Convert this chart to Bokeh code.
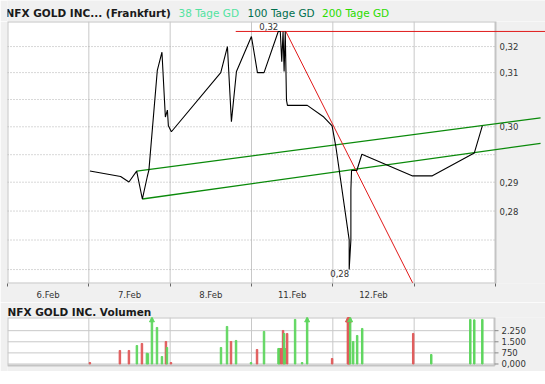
from bokeh.plotting import figure
from bokeh.layouts import column
from bokeh.models import Range1d, FixedTicker, Label
from bokeh.core.properties import value
from bokeh.embed import file_html
from bokeh.resources import INLINE

FONT = "DejaVu Sans"
BG = "#f0f0f0"
FRAME = "#c4c4c4"

# ---------------- data ----------------
HEADER_TITLE = "NFX GOLD INC... (Frankfurt)"
LEGEND_TEXTS = ["38 Tage GD", "100 Tage GD", "200 Tage GD"]
LEGEND_COLORS = ["#52e3a0", "#006f4e", "#2bdc00"]

DAY_LABELS = ["6.Feb", "7.Feb", "8.Feb", "11.Feb", "12.Feb", ""]

PRICE_X = [1.013, 1.391, 1.493, 1.588, 1.658, 1.719, 1.739, 1.842, 1.899, 1.941,
           1.966, 1.978, 2.015, 2.622, 2.704, 2.753, 2.815, 2.999, 3.073, 3.154,
           3.329, 3.354, 3.372, 3.388, 3.401, 3.415, 3.430, 3.442, 3.686, 3.889,
           3.991, 4.037, 4.201, 4.201, 4.222, 4.222, 4.230, 4.295, 4.357, 4.981,
           5.218, 5.739, 5.838]
PRICE_Y = [0.2959, 0.2950, 0.2941, 0.2959, 0.2913, 0.2950, 0.2961, 0.3131, 0.3163, 0.3050,
           0.3062, 0.3035, 0.3025, 0.3127, 0.3173, 0.3042, 0.3129, 0.3191, 0.3127, 0.3127,
           0.3200, 0.3200, 0.3146, 0.3200, 0.3129, 0.3200, 0.3079, 0.3070, 0.3070, 0.3050,
           0.3035, 0.3000, 0.2847, 0.2800, 0.2847, 0.2928, 0.2960, 0.2960, 0.2987, 0.2951,
           0.2951, 0.2989, 0.3035]

Y_MIN, Y_MAX = 0.27782, 0.32179
Y_TICKS = [0.2800, 0.28468, 0.28934, 0.29406, 0.29863, 0.30334, 0.30802, 0.31270, 0.31730]
Y_TICK_LABELS = ["", "", "0,28", "0,29", "", "0,30", "", "0,31", "0,32"]

# trend lines
UPPER_GREEN_X = [1.588, 6.554]
UPPER_GREEN_Y = [0.2959, 0.30487]
LOWER_GREEN_X = [1.658, 6.554]
LOWER_GREEN_Y = [0.2913, 0.30054]
RED_DOWN_X = [3.422, 4.981]
RED_DOWN_Y = [0.3200, 0.27793]
RED_HIGH_X = [2.806, 6.62]

# volume
VOL_X = [1.013, 1.382, 1.493, 1.591, 1.653, 1.714, 1.727, 1.776, 1.838, 1.899,
         1.948, 1.961, 2.010, 2.625, 2.699, 2.748, 2.810, 2.994, 3.068, 3.154,
         3.332, 3.344, 3.364, 3.388, 3.401, 3.413, 3.438, 3.536, 3.622, 3.684,
         3.991, 4.185, 4.193, 4.203, 4.213, 4.250, 4.299, 4.361, 4.988, 5.210,
         5.690, 5.739, 5.838]
VOL_V = [100, 913, 913, 1250, 1386, 730, 700, 4000, 2467, 507,
         1521, 1115, 100, 1115, 2535, 1521, 1589, 100, 980, 2197,
         1048, 1048, 1048, 2264, 2062, 1048, 2062, 3010, 100, 4000,
         372, 4000, 4000, 4000, 4000, 1521, 1926, 2400, 2062, 642,
         3010, 2980, 3010]
VOL_UP = [0, 0, 0, 1, 0, 1, 1, 1, 1, 1,
          0, 1, 0, 1, 1, 0, 1, 1, 0, 1,
          1, 1, 0, 0, 1, 1, 0, 1, 1, 1,
          0, 0, 0, 0, 1, 1, 1, 1, 0, 1,
          1, 1, 1]
VOL_MIN, VOL_MAX = -100, 3140       # visible plot area of the volume chart
VOL_RANGE_MIN = -507                # canvas continues a few px below the plot area
VOL_TICKS = [0, 750, 1500, 2250]
VOL_TICK_LABELS = ["0,000", "750", "1.500", "2.250"]
VOL_TITLE = "NFX GOLD INC. Volumen"

N_DAYS = 6
# the canvas continues 50 px to the right of the plot area (7..495 px of 545)
X_END = N_DAYS * (545 - 7) / (495 - 7)
PX = N_DAYS / (495 - 7)          # one pixel in day units

day_centers = [i + 0.5 for i in range(N_DAYS)]
day_bounds = list(range(N_DAYS + 1))

# ---------------- header ----------------
hdr = figure(width=545, height=21, x_range=Range1d(7, 545), y_range=Range1d(0, 21),
             toolbar_location=None, output_backend="svg", min_border=0,
             min_border_left=7, min_border_right=0,
             x_axis_location=None, y_axis_location=None)
hdr.grid.visible = False
hdr.outline_line_color = None
hdr.background_fill_color = BG
hdr.border_fill_color = BG
hdr.add_layout(Label(x=5, y=8.1, text=HEADER_TITLE, text_color="#1a1a1a",
                     text_font=FONT, text_font_size="10.5px", text_font_style="bold",
                     text_baseline="middle"))
for lx, txt, col in zip([178, 247, 321.5], LEGEND_TEXTS, LEGEND_COLORS):
    hdr.add_layout(Label(x=lx, y=8.1, text=txt, text_color=col, text_font=FONT,
                         text_font_size="10.5px", text_baseline="middle"))

# ---------------- main price chart ----------------
p = figure(width=545, height=281, x_range=Range1d(0, X_END), y_range=Range1d(Y_MIN, Y_MAX),
           y_axis_type="log", y_axis_location=None, toolbar_location=None,
           output_backend="svg", min_border_left=7, min_border_right=0,
           min_border_top=0, min_border_bottom=17)
p.background_fill_color = BG
p.border_fill_color = BG
p.outline_line_color = None
p.grid.visible = False

p.xaxis.ticker = FixedTicker(ticks=day_centers, minor_ticks=day_bounds)
p.xaxis.major_label_overrides = {c: l for c, l in zip(day_centers, DAY_LABELS)}
p.xaxis.axis_line_color = None
p.xaxis.major_tick_line_color = None
p.xaxis.minor_tick_in = 0
p.xaxis.minor_tick_out = 3
p.xaxis.minor_tick_line_color = "#666666"
p.xaxis.major_label_standoff = 0
p.xaxis.major_label_text_font = FONT
p.xaxis.major_label_text_font_size = "8.5px"
p.xaxis.major_label_text_color = "#333333"

# plot area
p.quad(left=[0], right=[N_DAYS], bottom=[Y_MIN], top=[Y_MAX], fill_color="white",
       line_color=FRAME, line_width=2)
# grid
p.segment(x0=day_bounds[1:-1], y0=Y_MIN, x1=day_bounds[1:-1], y1=Y_MAX,
          line_color="#c8c8c8", line_width=1)
p.segment(x0=0, y0=Y_TICKS, x1=N_DAYS - PX, y1=Y_TICKS, line_color="#b0b0b0",
          line_width=1, line_dash="1 2")
# y labels to the right of the plot area
p.text(x=N_DAYS, y=Y_TICKS, text=Y_TICK_LABELS, x_offset=4, text_baseline="middle",
       text_font=value(FONT), text_font_size="8.5px", text_color="#333333")

# trend channel
p.line(UPPER_GREEN_X, UPPER_GREEN_Y, line_color="#0a8a0a", line_width=1.3)
p.line(LOWER_GREEN_X, LOWER_GREEN_Y, line_color="#0a8a0a", line_width=1.3)

hi_idx = PRICE_Y.index(max(PRICE_Y))
lo_idx = PRICE_Y.index(min(PRICE_Y))
hi_val = PRICE_Y[hi_idx]
lo_val = PRICE_Y[lo_idx]

p.line(RED_HIGH_X, [hi_val, hi_val], line_color="#e01a1a", line_width=1)
p.line(RED_DOWN_X, RED_DOWN_Y, line_color="#e01a1a", line_width=1)

p.line(PRICE_X, PRICE_Y, line_color="black", line_width=1.1)

def fmt(v):
    return f"{v:.2f}".replace(".", ",")

p.text(x=[PRICE_X[hi_idx]], y=[hi_val], text=[fmt(hi_val)], text_align="right",
       text_baseline="bottom", y_offset=-1, text_font=value(FONT),
       text_font_size="8.5px", text_color="#333333")
p.text(x=[PRICE_X[lo_idx]], y=[lo_val], text=[fmt(lo_val)], text_align="right",
       text_baseline="top", y_offset=0, text_font=value(FONT),
       text_font_size="8.5px", text_color="#333333")

# ---------------- volume chart ----------------
v = figure(width=545, height=69, x_range=Range1d(0, X_END),
           y_range=Range1d(VOL_RANGE_MIN, VOL_MAX),
           y_axis_location=None, x_axis_location=None, toolbar_location=None,
           output_backend="svg", min_border_left=7, min_border_right=0,
           min_border_top=15, min_border_bottom=0, title=VOL_TITLE)
v.title.text_font = FONT
v.title.text_font_size = "10.5px"
v.title.text_font_style = "bold"
v.title.text_color = "#1a1a1a"
v.title.standoff = 0
v.title.offset = 0
v.background_fill_color = BG
v.border_fill_color = BG
v.outline_line_color = None
v.grid.visible = False

v.quad(left=[0], right=[N_DAYS - PX], bottom=[VOL_MIN], top=[VOL_MAX], fill_color="white",
       line_color=FRAME, line_width=2)
v.segment(x0=day_bounds[1:-1], y0=VOL_MIN, x1=day_bounds[1:-1], y1=VOL_MAX,
          line_color="#c8c8c8", line_width=1)
v.segment(x0=0, y0=VOL_TICKS, x1=N_DAYS - PX, y1=VOL_TICKS, line_color="#c8c8c8",
          line_width=1)
v.segment(x0=N_DAYS - PX, y0=VOL_TICKS, x1=N_DAYS + 3 * PX, y1=VOL_TICKS,
          line_color="#888888", line_width=1)
v.text(x=N_DAYS, y=VOL_TICKS, text=VOL_TICK_LABELS, x_offset=6, text_baseline="middle",
       text_font=value(FONT), text_font_size="8.5px", text_color="#333333")

GREEN = "#5fd65f"
RED = "#e05a5a"
vol_colors = [GREEN if u else RED for u in VOL_UP]
v.vbar(x=VOL_X, top=VOL_V, bottom=0, width=0.018, color=vol_colors)

arrow_y = VOL_MAX - 0.06 * (VOL_MAX - VOL_MIN)
ax = [x for x, val in zip(VOL_X, VOL_V) if val > VOL_MAX]
ac = [c for c, val in zip(vol_colors, VOL_V) if val > VOL_MAX]
v.scatter(x=ax, y=[arrow_y] * len(ax), marker="triangle", size=5, color=ac)

layout = column(hdr, p, v, spacing=0)
open("out.html", "w").write(file_html(layout, INLINE))
